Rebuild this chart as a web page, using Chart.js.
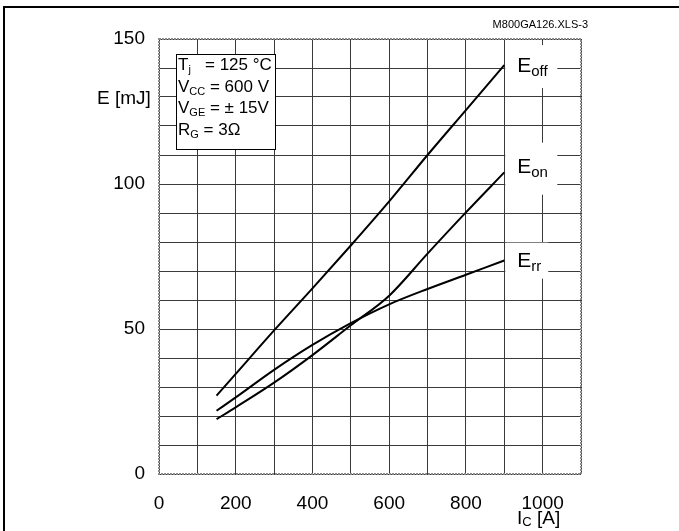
<!DOCTYPE html>
<html>
<head>
<meta charset="utf-8">
<script src="https://cdn.jsdelivr.net/npm/chart.js@4/dist/chart.umd.min.js"></script>
<style>
  body { margin: 0; background: #fff; }
  canvas { display: block; }
</style>
</head>
<body>
<canvas id="chart" width="679" height="531"></canvas>
<script>
// collector current I_C [A]
const currents = [150, 200, 300, 400, 500, 600, 700, 800, 900];
// switching energies [mJ]
const eOff = [27, 34.5, 49.5, 64, 78.8, 94, 110, 125.5, 141];
const eOn = [18.9, 23, 31.5, 41, 51.3, 61.5, 76, 90.2, 104];
const eRr = [21.8, 26.4, 35.9, 44.5, 52, 58.5, 63.8, 68.7, 73.6];

const seriesNames = [['E', 'off'], ['E', 'on'], ['E', 'rr']];
const seriesValues = [eOff, eOn, eRr];
const labelLevels = [138.6, 103.9, 71.5];

const infoLines = [
  ['T', 'j', '   = 125 °C'],
  ['V', 'CC', ' = 600 V'],
  ['V', 'GE', ' = ± 15V'],
  ['R', 'G', ' = 3Ω']
];

const FONT = '"Liberation Sans", Arial, Helvetica, sans-serif';

function subText(ctx, x, y, main, sub, rest, size, subSize, drop) {
  ctx.font = size + 'px ' + FONT;
  ctx.fillText(main, x, y);
  x += ctx.measureText(main).width;
  ctx.font = subSize + 'px ' + FONT;
  ctx.fillText(sub, x, y + drop);
  x += ctx.measureText(sub).width;
  if (rest) {
    ctx.font = size + 'px ' + FONT;
    ctx.fillText(rest, x, y);
  }
}

const decor = {
  id: 'decor',
  beforeDatasetsDraw(chart) {
    const { ctx, chartArea: a, scales: { x, y } } = chart;
    ctx.save();
    // white patches behind curve names
    ctx.fillStyle = '#fff';
    ctx.fillRect(x.getPixelForValue(900) + 1, y.getPixelForValue(labelLevels[0]) - 27, 52, 43);
    ctx.fillRect(x.getPixelForValue(900) + 1, y.getPixelForValue(labelLevels[1]) - 30, 52, 52);
    ctx.fillRect(x.getPixelForValue(900) + 1, y.getPixelForValue(labelLevels[2]) - 24, 43, 36);
    // dotted plot frame
    ctx.strokeStyle = '#888';
    ctx.lineWidth = 2;
    ctx.setLineDash([2, 1]);
    ctx.strokeRect(a.left, a.top, a.right - a.left, a.bottom - a.top);
    ctx.restore();
  },
  afterDatasetsDraw(chart) {
    const { ctx, scales: { x, y } } = chart;
    ctx.save();
    ctx.fillStyle = '#000';
    ctx.textBaseline = 'alphabetic';
    ctx.textAlign = 'left';

    // curve names
    seriesNames.forEach((n, i) => {
      subText(ctx, x.getPixelForValue(900) + 13, y.getPixelForValue(labelLevels[i]), n[0], n[1], '', 21, 15, 4);
    });

    // info box
    ctx.fillStyle = '#fff';
    ctx.fillRect(176.5, 54.5, 99, 95);
    ctx.strokeStyle = '#000';
    ctx.lineWidth = 1;
    ctx.strokeRect(176.5, 54.5, 99, 95);
    ctx.fillStyle = '#000';
    infoLines.forEach((l, i) => {
      subText(ctx, 178, 70 + i * 21.5, l[0], l[1], l[2], 17, 11, 3);
    });

    // axis titles
    ctx.font = '19px ' + FONT;
    ctx.fillText('E [mJ]', 97, 104);
    subText(ctx, 517, 524, 'I', 'C', ' [A]', 19, 13, 2);

    // file tag
    ctx.font = '11px ' + FONT;
    ctx.textAlign = 'right';
    ctx.fillText('M800GA126.XLS-3', 588, 28);

    // page frame
    ctx.strokeStyle = '#000';
    ctx.lineWidth = 2;
    ctx.beginPath();
    ctx.moveTo(4, 531);
    ctx.lineTo(4, 7);
    ctx.lineTo(679, 7);
    ctx.stroke();
    ctx.restore();
  }
};

new Chart(document.getElementById('chart'), {
  type: 'line',
  data: {
    datasets: seriesValues.map((vals, i) => ({
      label: seriesNames[i].join(''),
      data: currents.map((c, j) => ({ x: c, y: vals[j] })),
      borderColor: '#000',
      borderWidth: 2,
      pointRadius: 0,
      cubicInterpolationMode: 'monotone',
      fill: false
    }))
  },
  options: {
    responsive: false,
    animation: false,
    layout: { padding: { top: 39, right: 98, left: 0, bottom: 0 } },
    plugins: { legend: { display: false }, tooltip: { enabled: false } },
    scales: {
      x: {
        type: 'linear',
        min: 0,
        max: 1100,
        afterFit(scale) { scale.height = 57; },
        grid: { color: '#3a3a3a', lineWidth: 1, drawTicks: false },
        border: { display: false },
        ticks: {
          stepSize: 100,
          autoSkip: false,
          maxRotation: 0,
          padding: 18,
          color: '#000',
          font: { family: FONT, size: 19 },
          callback: v => (v % 200 === 0 && v <= 1000) ? v : ''
        }
      },
      y: {
        min: 0,
        max: 150,
        afterFit(scale) { scale.width = 159; },
        grid: { color: '#3a3a3a', lineWidth: 1, drawTicks: false },
        border: { display: false },
        ticks: {
          stepSize: 10,
          autoSkip: false,
          padding: 14,
          color: '#000',
          font: { family: FONT, size: 19 },
          callback: v => v % 50 === 0 ? v : ''
        }
      }
    }
  },
  plugins: [decor]
});
</script>
</body>
</html>
